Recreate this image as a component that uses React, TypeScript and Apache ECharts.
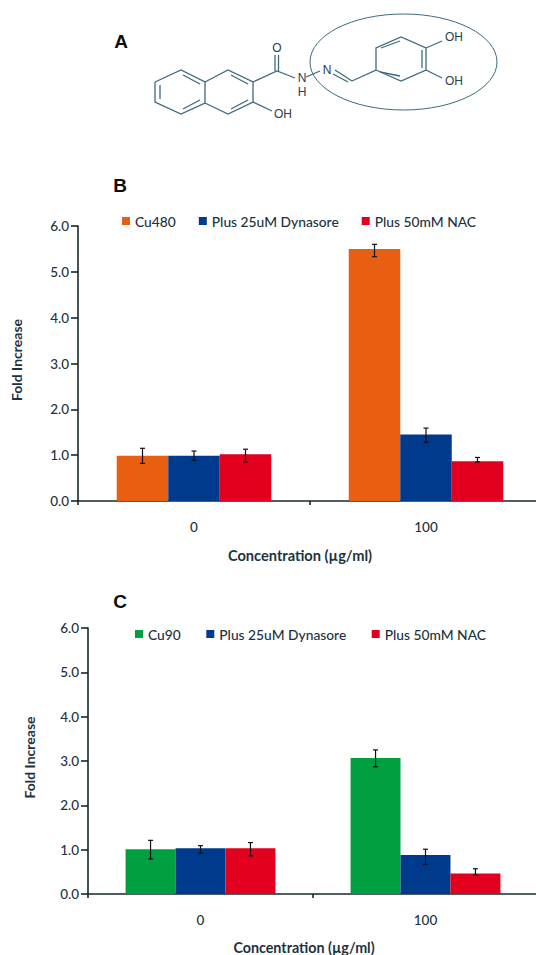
import React, { useEffect, useRef } from "react";
import * as echarts from "echarts";

const categories = ["0", "100"];
const yTicks = { min: 0, max: 6, interval: 1 };

const namesB = ["Cu480", "Plus 25uM Dynasore", "Plus 50mM NAC"];
const valuesB = [
  [0.99, 5.5],
  [0.99, 1.45],
  [1.02, 0.87],
];
const errorsB = [
  [[0.82, 1.15], [5.33, 5.6]],
  [[0.89, 1.09], [1.28, 1.59]],
  [[0.85, 1.13], [0.85, 0.95]],
];
const colorsB = ["#E95F11", "#003A8C", "#E3001F"];

const namesC = ["Cu90", "Plus 25uM Dynasore", "Plus 50mM NAC"];
const valuesC = [
  [1.01, 3.07],
  [1.03, 0.88],
  [1.03, 0.46],
];
const errorsC = [
  [[0.79, 1.21], [2.87, 3.25]],
  [[0.92, 1.09], [0.67, 1.01]],
  [[0.86, 1.16], [0.43, 0.57]],
];
const colorsC = ["#00A040", "#003A8C", "#E3001F"];

const xName = "Concentration (µg/ml)";
const yName = "Fold Increase";
const FONT = "Lato, sans-serif";
const INK = "#1d3240";
const AXIS = "#16282c";
const BOND = "#3f6a7c";

const bonds: number[][][] = [
  [[155, 82], [181, 70], [205, 82], [205, 103], [181, 114], [155, 102], [155, 82]],
  [[160, 85], [160, 99]],
  [[183, 75], [200, 84]],
  [[183, 109], [200, 100]],
  [[205, 82], [228, 70], [253, 82], [253, 102], [228, 114], [205, 103]],
  [[231, 75], [248, 84]],
  [[231, 109], [248, 100]],
  [[253, 82], [277, 71], [295, 78]],
  [[253, 102], [272, 111]],
  [[275, 71], [275, 55]],
  [[278.5, 71], [278.5, 55]],
  [[306, 77], [320, 71]],
  [[335, 70], [352, 81]],
  [[333, 74], [348, 82]],
  [[352, 81], [376, 70], [376, 48], [401, 37], [426, 48], [426, 70], [401, 81], [376, 70]],
  [[381, 48], [400, 41]],
  [[422, 50], [422, 68]],
  [[380, 72], [400, 76]],
  [[426, 48], [442, 41]],
  [[426, 70], [442, 78]],
];
const atoms: [string, number, number][] = [
  ["O", 277, 48],
  ["N", 302, 78],
  ["H", 302, 92],
  ["N", 327, 70],
  ["OH", 283, 114],
  ["OH", 454, 37],
  ["OH", 454, 81],
];
const panels: [string, number, number][] = [
  ["A", 121, 41],
  ["B", 120, 185],
  ["C", 120, 601],
];

function barSeries(names: string[], values: number[][], colors: string[], idx: number, barPct: number) {
  return names.map((name, i) => ({
    type: "bar",
    name,
    xAxisIndex: idx,
    yAxisIndex: idx,
    data: values[i],
    barWidth: barPct + "%",
    barGap: 0,
    itemStyle: { color: colors[i] },
    silent: true,
  }));
}

function errorSeries(errors: number[][][], idx: number, barPct: number) {
  return errors.map((perCat, i) => ({
    type: "custom",
    name: "error" + idx + i,
    xAxisIndex: idx,
    yAxisIndex: idx,
    silent: true,
    z: 5,
    data: perCat.map((e, c) => [c, e[0], e[1]]),
    renderItem: (_p: any, api: any) => {
      const band = api.size([1, 0])[0];
      const off = (i - 1) * band * (barPct / 100);
      const lo = api.coord([api.value(0), api.value(1)]);
      const hi = api.coord([api.value(0), api.value(2)]);
      const x = lo[0] + off;
      const st = { stroke: "#111111", lineWidth: 1.2, fill: "none" };
      return {
        type: "group",
        children: [
          { type: "line", shape: { x1: x, y1: lo[1], x2: x, y2: hi[1] }, style: st },
          { type: "line", shape: { x1: x - 2.5, y1: lo[1], x2: x + 2.5, y2: lo[1] }, style: st },
          { type: "line", shape: { x1: x - 2.5, y1: hi[1], x2: x + 2.5, y2: hi[1] }, style: st },
        ],
      };
    },
  }));
}

function xAxis(gridIndex: number, nameGap: number, fontSize: number, shift: number) {
  return {
    type: "category",
    gridIndex,
    data: categories,
    name: xName,
    nameLocation: "middle",
    nameGap,
    nameTextStyle: { fontFamily: FONT, fontSize, fontWeight: "bold", color: INK, padding: [0, shift, 0, 0] },
    axisLine: { lineStyle: { color: AXIS, width: 1.6 } },
    axisTick: { show: true, length: 4, alignWithLabel: false, lineStyle: { color: AXIS, width: 1.6 } },
    axisLabel: { fontFamily: FONT, fontSize: 13.5, color: INK, margin: 19, fontWeight: 500 },
  };
}

function yAxis(gridIndex: number, nameGap: number) {
  return {
    type: "value",
    gridIndex,
    ...yTicks,
    name: yName,
    nameLocation: "middle",
    nameGap,
    nameRotate: 90,
    nameTextStyle: { fontFamily: FONT, fontSize: 14, fontWeight: "bold", color: INK, padding: [0, 0, 0, 7] },
    splitLine: { show: false },
    axisLine: { show: true, lineStyle: { color: AXIS, width: 1.6 } },
    axisTick: { show: true, length: 7, lineStyle: { color: AXIS, width: 1.6 } },
    axisLabel: { fontFamily: FONT, fontSize: 13.5, color: INK, margin: 9, fontWeight: 500, formatter: (v: number) => v.toFixed(1) },
  };
}

function legend(names: string[], left: number, top: number, itemGap: number) {
  return {
    data: names,
    left,
    top,
    orient: "horizontal",
    padding: 0,
    icon: "rect",
    itemWidth: 8,
    itemHeight: 8,
    itemGap,
    selectedMode: false,
    textStyle: { fontFamily: FONT, fontSize: 13.8, fontWeight: 500, color: INK },
  };
}

function moleculeGraphic() {
  const out: any[] = [
    {
      type: "ellipse",
      shape: { cx: 403.5, cy: 62, rx: 93.5, ry: 48 },
      style: { fill: "none", stroke: BOND, lineWidth: 1 },
    },
  ];
  bonds.forEach((points) =>
    out.push({ type: "polyline", shape: { points }, style: { fill: "none", stroke: BOND, lineWidth: 1.3 } })
  );
  atoms.forEach(([text, x, y]) =>
    out.push({
      type: "text",
      x,
      y,
      style: { text, fontFamily: "Liberation Sans, sans-serif", fontSize: 12, fill: "#26404e", align: "center", verticalAlign: "middle" },
    })
  );
  panels.forEach(([text, x, y]) =>
    out.push({
      type: "text",
      x,
      y,
      style: { text, fontFamily: "Liberation Sans, sans-serif", fontSize: 19, fontWeight: "bold", fill: "#0c0c0c", align: "center", verticalAlign: "middle" },
    })
  );
  return out;
}

export default function App() {
  const ref = useRef<HTMLDivElement>(null);
  useEffect(() => {
    document.body.style.margin = "0";
    const chart = echarts.init(ref.current!, undefined, { renderer: "svg" });
    chart.setOption({
      animation: false,
      backgroundColor: "#ffffff",
      grid: [
        { left: 78, top: 226, width: 464, height: 275 },
        { left: 88, top: 628, width: 450, height: 268 },
      ],
      xAxis: [xAxis(0, 47, 14.6, 20), xAxis(1, 46, 14.3, 18)],
      yAxis: [yAxis(0, 55), yAxis(1, 52)],
      legend: [legend(namesB, 122, 214, 23), legend(namesC, 135, 627, 25.5)],
      series: [
        ...barSeries(namesB, valuesB, colorsB, 0, 22.2),
        ...errorSeries(errorsB, 0, 22.2),
        ...barSeries(namesC, valuesC, colorsC, 1, 22.2),
        ...errorSeries(errorsC, 1, 22.2),
      ],
      graphic: moleculeGraphic(),
    });
    return () => chart.dispose();
  }, []);
  return (
    <div style={{ width: 536, height: 955, overflow: "hidden", position: "relative" }}>
      <div ref={ref} style={{ width: 560, height: 955 }} />
    </div>
  );
}
